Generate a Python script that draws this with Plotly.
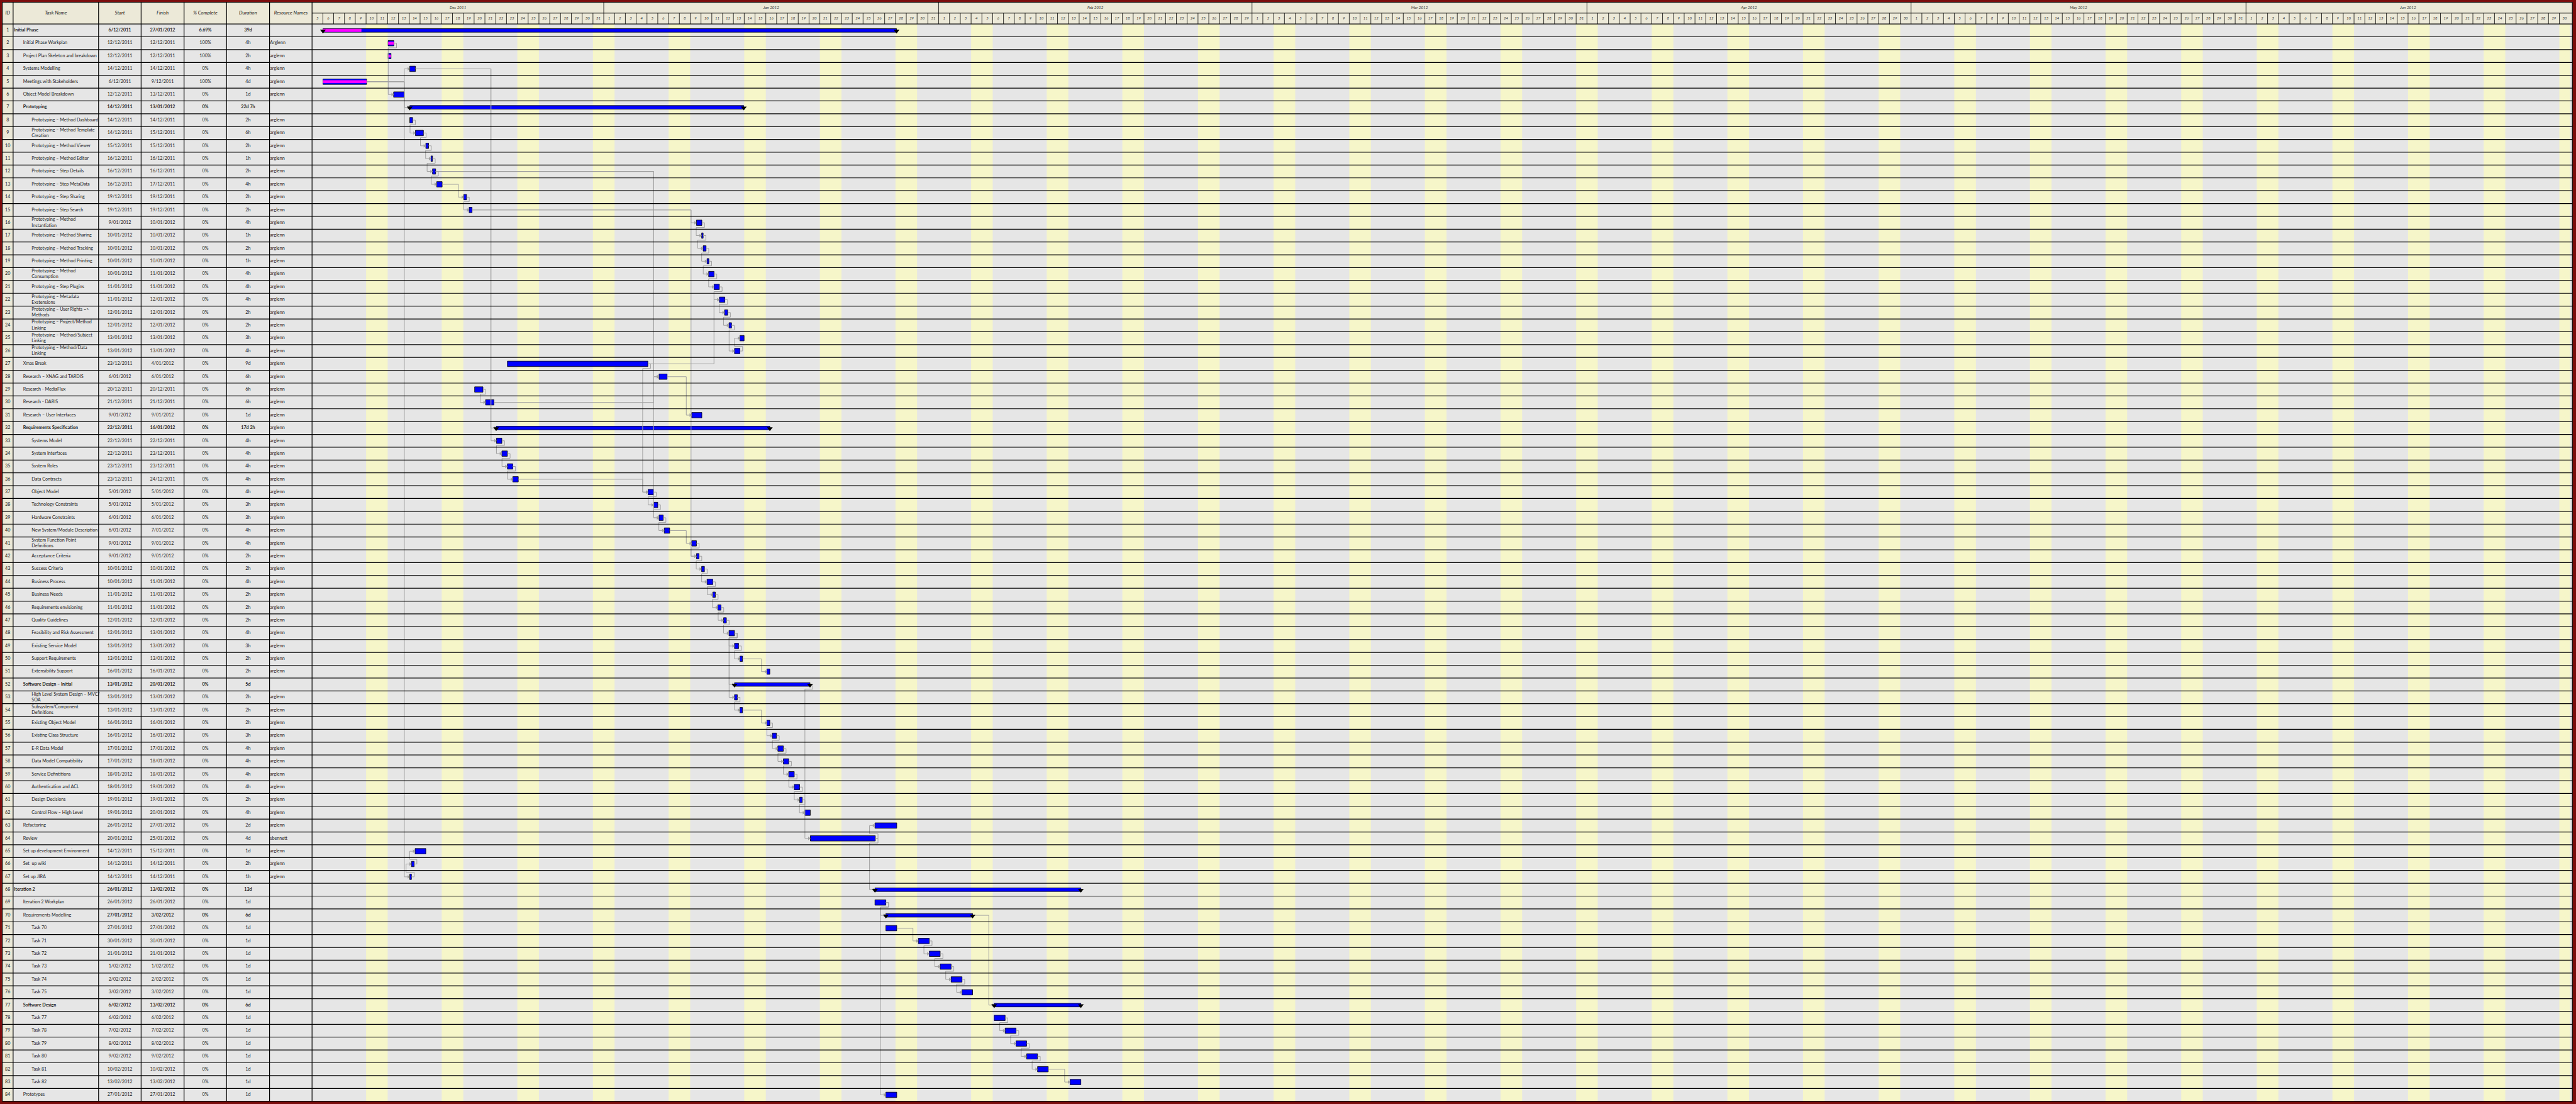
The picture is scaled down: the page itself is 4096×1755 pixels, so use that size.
import pandas as pd
import plotly.graph_objects as go

# ---------------- data ----------------
ids = list(range(1, 85))
names = [
    "Initial Phase", "Initial Phase Workplan", "Project Plan Skeleton and breakdown", "Systems Modelling",
    "Meetings with Stakeholders", "Object Model Breakdown", "Prototyping", "Prototyping – Method Dashboard",
    "Prototyping – Method Template<br>Creation", "Prototyping – Method Viewer", "Prototyping – Method Editor",
    "Prototyping – Step Details", "Prototyping – Step MetaData", "Prototyping – Step Sharing",
    "Prototyping – Step Search", "Prototyping – Method<br>Instantiation", "Prototyping – Method Sharing",
    "Prototyping – Method Tracking", "Prototyping – Method Printing", "Prototyping – Method<br>Consumption",
    "Prototyping – Step Plugins", "Prototyping – Metadata<br>Exstensions", "Prototyping – User Rights =><br>Methods",
    "Prototyping – Project/Method<br>Linking", "Prototyping – Method/Subject<br>Linking",
    "Prototyping – Method/Data<br>Linking", "Xmas Break", "Research – XNAG and TARDIS", "Research - MediaFlux",
    "Research - DARIS", "Research – User Interfaces", "Requirements Specification", "Systems Model",
    "System Interfaces", "System Roles", "Data Contracts", "Object Model", "Technology Constraints",
    "Hardware Constraints", "New System/Module Description", "System Function Point<br>Definitions",
    "Acceptance Criteria", "Success Criteria", "Business Process", "Business Needs", "Requirements envisioning",
    "Quality Guidelines", "Feasibility and Risk Assessment", "Existing Service Model", "Support Requirements",
    "Extensibility Support", "Software Design – Initial", "High Level System Design – MVC/<br>SOA",
    "Subsystem/Component<br>Definitions", "Existing Object Model", "Existing Class Structure", "E-R Data Model",
    "Data Model Compatibility", "Service Defintitions", "Authentication and ACL", "Design Decisions",
    "Control Flow – High Level", "Refactoring", "Review", "Set up development Environment", "Set  up wiki",
    "Set up JIRA", "Iteration 2", "Iteration 2 Workplan", "Requirements Modelling",
    "Task 70", "Task 71", "Task 72", "Task 73", "Task 74", "Task 75", "Software Design",
    "Task 77", "Task 78", "Task 79", "Task 80", "Task 81", "Task 82", "Prototypes",
]
levels = ([0] + [1] * 6 + [2] * 19 + [1] * 6 + [2] * 19 + [1] + [2] * 10 + [1] * 5 + [0, 1, 1]
          + [2] * 6 + [1] + [2] * 6 + [1])
starts = [
    "6/12/2011", "12/12/2011", "12/12/2011", "14/12/2011", "6/12/2011", "12/12/2011", "14/12/2011", "14/12/2011",
    "14/12/2011", "15/12/2011", "16/12/2011", "16/12/2011", "16/12/2011", "19/12/2011", "19/12/2011", "9/01/2012",
    "10/01/2012", "10/01/2012", "10/01/2012", "10/01/2012", "11/01/2012", "11/01/2012", "12/01/2012", "12/01/2012",
    "13/01/2012", "13/01/2012", "23/12/2011", "6/01/2012", "20/12/2011", "21/12/2011", "9/01/2012", "22/12/2011",
    "22/12/2011", "22/12/2011", "23/12/2011", "23/12/2011", "5/01/2012", "5/01/2012", "6/01/2012", "6/01/2012",
    "9/01/2012", "9/01/2012", "10/01/2012", "10/01/2012", "11/01/2012", "11/01/2012", "12/01/2012", "12/01/2012",
    "13/01/2012", "13/01/2012", "16/01/2012", "13/01/2012", "13/01/2012", "13/01/2012", "16/01/2012", "16/01/2012",
    "17/01/2012", "17/01/2012", "18/01/2012", "18/01/2012", "19/01/2012", "19/01/2012", "26/01/2012", "20/01/2012",
    "14/12/2011", "14/12/2011", "14/12/2011", "26/01/2012", "26/01/2012", "27/01/2012", "27/01/2012", "30/01/2012",
    "31/01/2012", "1/02/2012", "2/02/2012", "3/02/2012", "6/02/2012", "6/02/2012", "7/02/2012", "8/02/2012",
    "9/02/2012", "10/02/2012", "13/02/2012", "27/01/2012",
]
finishes = [
    "27/01/2012", "12/12/2011", "12/12/2011", "14/12/2011", "9/12/2011", "13/12/2011", "13/01/2012", "14/12/2011",
    "15/12/2011", "15/12/2011", "16/12/2011", "16/12/2011", "17/12/2011", "19/12/2011", "19/12/2011", "10/01/2012",
    "10/01/2012", "10/01/2012", "10/01/2012", "11/01/2012", "11/01/2012", "12/01/2012", "12/01/2012", "12/01/2012",
    "13/01/2012", "13/01/2012", "4/01/2012", "6/01/2012", "20/12/2011", "21/12/2011", "9/01/2012", "16/01/2012",
    "22/12/2011", "23/12/2011", "23/12/2011", "24/12/2011", "5/01/2012", "5/01/2012", "6/01/2012", "7/01/2012",
    "9/01/2012", "9/01/2012", "10/01/2012", "11/01/2012", "11/01/2012", "11/01/2012", "12/01/2012", "13/01/2012",
    "13/01/2012", "13/01/2012", "16/01/2012", "20/01/2012", "13/01/2012", "13/01/2012", "16/01/2012", "16/01/2012",
    "17/01/2012", "18/01/2012", "18/01/2012", "19/01/2012", "19/01/2012", "20/01/2012", "27/01/2012", "25/01/2012",
    "15/12/2011", "14/12/2011", "14/12/2011", "13/02/2012", "26/01/2012", "3/02/2012", "27/01/2012", "30/01/2012",
    "31/01/2012", "1/02/2012", "2/02/2012", "3/02/2012", "13/02/2012", "6/02/2012", "7/02/2012", "8/02/2012",
    "9/02/2012", "10/02/2012", "13/02/2012", "27/01/2012",
]
pct = ["6.69%", "100%", "100%", "0%", "100%"] + ["0%"] * 79
durations = [
    "39d", "4h", "2h", "4h", "4d", "1d", "22d 7h", "2h", "6h", "2h", "1h", "2h", "4h", "2h", "2h", "4h", "1h", "2h",
    "1h", "4h", "4h", "4h", "2h", "2h", "3h", "4h", "9d", "6h", "6h", "6h", "1d", "17d 2h", "4h", "4h", "4h", "4h",
    "4h", "3h", "3h", "4h", "4h", "2h", "2h", "4h", "2h", "2h", "2h", "4h", "3h", "2h", "2h", "5d", "2h", "2h", "2h",
    "3h", "4h", "4h", "4h", "4h", "2h", "4h", "2d", "4d", "1d", "2h", "1h", "13d", "1d", "6d",
    "1d", "1d", "1d", "1d", "1d", "1d", "6d", "1d", "1d", "1d", "1d", "1d", "1d", "1d",
]
resources = ["", "Arglenn", "arglenn", "arglenn", "arglenn", "arglenn", ""] + ["arglenn"] * 44 + [""] + \
            ["arglenn"] * 11 + ["sbennett", "arglenn", "arglenn", "arglenn"] + [""] * 17

summary_rows = [1, 7, 32, 52, 68, 70, 77]
bold_name_rows = [1, 7, 32, 52, 68, 77]
done_rows = [2, 3, 5]
row1_progress_end = "2011-12-09 13:40"

bar_start = [
    "2011-12-06 00:15", "2011-12-12 01:00", "2011-12-12 01:00", "2011-12-14 01:00", "2011-12-06 00:15",
    "2011-12-12 13:10", "2011-12-14 01:00", "2011-12-14 01:00", "2011-12-14 13:40", "2011-12-15 12:45",
    "2011-12-16 00:15", "2011-12-16 03:35", "2011-12-16 12:55", "2011-12-19 01:00", "2011-12-19 12:55",
    "2012-01-09 13:55", "2012-01-10 01:25", "2012-01-10 04:50", "2012-01-10 13:25", "2012-01-10 17:00",
    "2012-01-11 05:00", "2012-01-11 16:50", "2012-01-12 04:20", "2012-01-12 14:10", "2012-01-13 14:25",
    "2012-01-13 02:25", "2011-12-23 01:55", "2012-01-06 02:50", "2011-12-20 01:10", "2011-12-21 01:25",
    "2012-01-09 03:20", "2011-12-22 01:00", "2011-12-22 01:40", "2011-12-22 13:40", "2011-12-23 01:55",
    "2011-12-23 13:55", "2012-01-05 02:25", "2012-01-05 14:40", "2012-01-06 02:50", "2012-01-06 14:25",
    "2012-01-09 03:20", "2012-01-09 13:55", "2012-01-10 01:25", "2012-01-10 13:25", "2012-01-11 02:10",
    "2012-01-11 13:25", "2012-01-12 02:10", "2012-01-12 14:10", "2012-01-13 02:25", "2012-01-13 14:25",
    "2012-01-16 02:25", "2012-01-13 02:25", "2012-01-13 02:25", "2012-01-13 14:25", "2012-01-16 02:25",
    "2012-01-16 14:25", "2012-01-17 02:40", "2012-01-17 14:55", "2012-01-18 02:50", "2012-01-18 15:10",
    "2012-01-19 03:10", "2012-01-19 14:40", "2012-01-26 02:25", "2012-01-20 02:50", "2011-12-14 12:55",
    "2011-12-14 04:50", "2011-12-14 01:00", "2012-01-26 02:25", "2012-01-26 02:25", "2012-01-27 02:40",
    "2012-01-27 02:40", "2012-01-30 02:50", "2012-01-31 03:10", "2012-02-01 03:20", "2012-02-02 03:35",
    "2012-02-03 03:50", "2012-02-06 03:20", "2012-02-06 03:20", "2012-02-07 03:35", "2012-02-08 03:50",
    "2012-02-09 03:20", "2012-02-10 03:35", "2012-02-13 03:50", "2012-01-27 02:40",
]
bar_end = [
    "2012-01-28 02:25", "2011-12-12 13:40", "2011-12-12 07:25", "2011-12-14 13:40", "2011-12-10 01:10",
    "2011-12-13 12:45", "2012-01-13 23:00", "2011-12-14 07:25", "2011-12-15 07:25", "2011-12-15 18:55",
    "2011-12-16 03:35", "2011-12-16 10:35", "2011-12-17 01:00", "2011-12-19 07:10", "2011-12-19 19:25",
    "2012-01-10 01:55", "2012-01-10 04:50", "2012-01-10 11:15", "2012-01-10 17:30", "2012-01-11 05:00",
    "2012-01-11 16:50", "2012-01-12 05:00", "2012-01-12 11:15", "2012-01-12 19:55", "2012-01-13 23:45",
    "2012-01-13 14:25", "2012-01-05 01:55", "2012-01-06 20:40", "2011-12-20 19:40", "2011-12-21 19:55",
    "2012-01-10 01:55", "2012-01-16 08:55", "2011-12-22 13:40", "2011-12-23 01:55", "2011-12-23 13:55",
    "2011-12-24 02:10", "2012-01-05 14:40", "2012-01-06 00:00", "2012-01-06 12:00", "2012-01-07 02:25",
    "2012-01-09 13:55", "2012-01-09 19:40", "2012-01-10 07:40", "2012-01-11 02:10", "2012-01-11 07:55",
    "2012-01-11 20:25", "2012-01-12 08:25", "2012-01-13 02:25", "2012-01-13 11:30", "2012-01-13 20:10",
    "2012-01-16 08:55", "2012-01-20 02:10", "2012-01-13 08:40", "2012-01-13 20:10", "2012-01-16 08:55",
    "2012-01-16 23:45", "2012-01-17 14:55", "2012-01-18 02:50", "2012-01-18 15:10", "2012-01-19 03:10",
    "2012-01-19 08:55", "2012-01-20 02:50", "2012-01-28 02:50", "2012-01-26 03:10", "2011-12-15 12:45",
    "2011-12-14 10:50", "2011-12-14 04:50", "2012-02-14 03:50", "2012-01-27 02:40", "2012-02-04 03:20",
    "2012-01-28 02:50", "2012-01-31 03:10", "2012-02-01 03:20", "2012-02-02 03:35", "2012-02-03 03:50",
    "2012-02-04 03:20", "2012-02-14 03:50", "2012-02-07 03:35", "2012-02-08 03:50", "2012-02-09 03:20",
    "2012-02-10 03:35", "2012-02-11 03:20", "2012-02-14 03:50", "2012-01-28 02:50",
]
links = [(2, 6), (5, 4), (5, 7), (5, 67), (6, 7), (4, 32), (4, 33), (8, 9), (9, 10), (10, 11), (11, 12),
         (12, 13), (12, 28), (12, 39), (13, 14), (14, 15), (15, 16), (15, 42), (16, 17), (17, 18), (18, 19),
         (19, 20), (20, 21), (21, 22), (27, 22), (22, 23), (23, 24), (24, 26), (26, 25), (27, 37), (36, 37),
         (28, 31), (29, 30), (30, 28), (33, 34), (34, 35), (35, 36), (37, 38), (38, 39), (39, 40), (40, 41),
         (41, 42), (42, 43), (43, 44), (44, 45), (45, 46), (46, 47), (47, 48), (48, 49), (49, 50), (50, 51),
         (48, 52), (48, 53), (53, 54), (54, 55), (55, 56), (56, 57), (57, 58), (58, 59), (59, 60), (60, 61),
         (61, 62), (52, 64), (64, 63), (64, 68), (69, 70), (69, 84), (71, 72), (72, 73), (73, 74), (74, 75),
         (75, 76), (70, 77), (78, 79), (79, 80), (80, 81), (81, 82), (82, 83), (67, 66), (66, 65)]

col_titles = ["ID", "Task Name", "Start", "Finish", "% Complete", "Duration", "Resource Names"]
tl_start, tl_end = "2011-12-05", "2012-07-01"

# ---------------- layout geometry (reference pixels) ----------------
W, H = 4096, 1755
RW, RH = 5696.0, 2440.0
HEAD_TOP, HEAD_MID, HEAD_BOT, BODY_BOT = 5, 29, 53, 2434
NROW = len(ids)
ROW_H = (BODY_BOT - HEAD_BOT) / NROW
COLS = [5, 29, 218, 312, 407, 501, 596, 690]
TL_X0, TL_X1, RIGHT = 690, 5683, 5688
LEVEL_X = [31, 51, 70]
RES_X = 597

FONT = "Lato, 'DejaVu Sans Condensed', sans-serif"
GRAY_BG = "#E6E6E6"
BEIGE = "#ECE9D8"
WEEKEND = "#F6F6C9"
BLUE = "#0000FF"
PINK = "#FF00FF"
LINK = "#A0A0A0"


def yv(p):
    return (p - HEAD_BOT) / ROW_H + 0.5


def px(x):
    return x / RW


def py(y):
    return 1 - y / RH


fig = go.Figure()
shapes = []
shapes.append(dict(type="rect", xref="paper", yref="paper", x0=px(5), x1=px(RIGHT), y0=py(HEAD_TOP),
                   y1=py(BODY_BOT), fillcolor=GRAY_BG, line_width=0, layer="below"))
shapes.append(dict(type="rect", xref="paper", yref="paper", x0=px(5), x1=px(RIGHT), y0=py(HEAD_TOP),
                   y1=py(HEAD_BOT), fillcolor=BEIGE, line_width=0, layer="below"))
shapes.append(dict(type="rect", xref="paper", yref="paper", x0=px(COLS[0]), x1=px(COLS[1]), y0=py(HEAD_BOT),
                   y1=py(BODY_BOT), fillcolor=BEIGE, line_width=0, layer="below"))
t0, t1 = pd.Timestamp(tl_start), pd.Timestamp(tl_end)
for d in pd.date_range(t0, t1, freq="W-SAT"):
    shapes.append(dict(type="rect", xref="x", yref="y", x0=d, x1=min(d + pd.Timedelta(days=2), t1),
                       y0=0.5, y1=NROW + 0.5, fillcolor=WEEKEND, line_width=0, layer="below"))


def hline(y, x0, x1, w=1.2, c="black"):
    shapes.append(dict(type="line", xref="paper", yref="y", x0=px(x0), x1=px(x1), y0=y, y1=y,
                       line=dict(color=c, width=w), layer="above"))


for i in range(NROW + 1):
    hline(i + 0.5, 5, RIGHT)
hline(yv(HEAD_TOP), 5, RIGHT)
hline(yv(HEAD_MID), TL_X0, RIGHT, 0.9)
for x in COLS + [RIGHT]:
    shapes.append(dict(type="line", xref="paper", yref="y", x0=px(x), x1=px(x), y0=yv(HEAD_TOP), y1=NROW + 0.5,
                       line=dict(color="black", width=1.2), layer="above"))
days = pd.date_range(t0, t1, freq="D")
for d in days[1:-1]:
    top = yv(HEAD_TOP) if d.day == 1 else yv(HEAD_MID)
    shapes.append(dict(type="line", xref="x", yref="y", x0=d, x1=d, y0=top, y1=0.5,
                       line=dict(color="black", width=0.8), layer="above"))

# ---------------- links ----------------
bs = [pd.Timestamp(s) for s in bar_start]
be = [pd.Timestamp(s) for s in bar_end]
STUB = pd.Timedelta(hours=6)
APPR = pd.Timedelta(hours=12)
ARW = pd.Timedelta(hours=3)
lx, ly, axp, ayp = [], [], [], []
for p, s in links:
    xe, xs = be[p - 1], bs[s - 1]
    xv = xs - APPR
    if xv >= xe:
        pts = [(xe, p), (xv, p), (xv, s), (xs - ARW, s)]
    else:
        off = 0.36 if s > p else -0.36
        xr = xe + STUB
        pts = [(xe, p), (xr, p), (xr, p + off), (xv, p + off), (xv, s), (xs - ARW, s)]
    for x, y in pts:
        lx.append(x)
        ly.append(y)
    lx.append(None)
    ly.append(None)
    axp.append(xs - ARW)
    ayp.append(s)

fig.add_trace(go.Scatter(x=lx, y=ly, mode="lines", line=dict(color=LINK, width=1), hoverinfo="skip",
                         xaxis="x", yaxis="y", showlegend=False))
fig.add_trace(go.Scatter(x=axp, y=ayp, mode="markers", marker=dict(symbol="triangle-right", size=5, color=LINK),
                         hoverinfo="skip", xaxis="x", yaxis="y", showlegend=False))

# ---------------- bars ----------------
task_idx = [i for i in range(NROW) if ids[i] not in summary_rows]
sum_idx = [i for i in range(NROW) if ids[i] in summary_rows]


def dur_ms(i):
    return (be[i] - bs[i]).total_seconds() * 1000


fig.add_trace(go.Bar(orientation="h", y=[ids[i] for i in task_idx], base=[bs[i] for i in task_idx],
                     x=[dur_ms(i) for i in task_idx], width=0.42,
                     marker=dict(color=BLUE, line=dict(color="black", width=0.8)),
                     hoverinfo="skip", xaxis="x", yaxis="y", showlegend=False))
done_idx = [r - 1 for r in done_rows]
fig.add_trace(go.Bar(orientation="h", y=[ids[i] for i in done_idx], base=[bs[i] for i in done_idx],
                     x=[dur_ms(i) for i in done_idx], width=0.22,
                     marker=dict(color=PINK, line=dict(width=0)),
                     hoverinfo="skip", xaxis="x", yaxis="y", showlegend=False))
fig.add_trace(go.Bar(orientation="h", y=[ids[i] for i in sum_idx], base=[bs[i] for i in sum_idx],
                     x=[dur_ms(i) for i in sum_idx], width=0.28,
                     marker=dict(color=BLUE, line=dict(color="black", width=0.8)),
                     hoverinfo="skip", xaxis="x", yaxis="y", showlegend=False))
pe = pd.Timestamp(row1_progress_end)
fig.add_trace(go.Bar(orientation="h", y=[1], base=[bs[0]], x=[(pe - bs[0]).total_seconds() * 1000], width=0.24,
                     marker=dict(color=PINK, line=dict(width=0)),
                     hoverinfo="skip", xaxis="x", yaxis="y", showlegend=False))
tri_x = [bs[i] for i in sum_idx] + [be[i] for i in sum_idx]
tri_y = [ids[i] for i in sum_idx] * 2
fig.add_trace(go.Scatter(x=tri_x, y=[y + 0.04 for y in tri_y], mode="markers",
                         marker=dict(symbol="triangle-down", size=8, color="black"),
                         hoverinfo="skip", xaxis="x", yaxis="y", showlegend=False))

# ---------------- header timeline text ----------------
fig.add_trace(go.Scatter(x=[d + pd.Timedelta(hours=12) for d in days[:-1]], y=[yv(41)] * (len(days) - 1),
                         text=["<i>%d</i>" % d.day for d in days[:-1]], mode="text",
                         textfont=dict(family=FONT, size=6, color="#333333"), textposition="middle center",
                         hoverinfo="skip", xaxis="x", yaxis="y", showlegend=False))
mstarts = pd.date_range("2011-12-01", "2012-06-01", freq="MS")
mx, mt = [], []
for m in mstarts:
    a = max(m, t0)
    b = min(m + pd.offsets.MonthBegin(1), t1)
    mx.append(a + (b - a) / 2)
    mt.append("<i>%s</i>" % m.strftime("%b %Y"))
fig.add_trace(go.Scatter(x=mx, y=[yv(17)] * len(mx), text=mt, mode="text",
                         textfont=dict(family=FONT, size=6.3, color="#333333"), textposition="middle center",
                         hoverinfo="skip", xaxis="x", yaxis="y", showlegend=False))

# ---------------- table text ----------------
def bold(v, cond):
    return "<b>%s</b>" % v if cond and v else v


rows = ids
is_sum = [r in summary_rows for r in rows]
is_bname = [r in bold_name_rows for r in rows]
tf = dict(family=FONT, size=7.2, color="#222222")
col_c = [(COLS[i] + COLS[i + 1]) / 2 for i in range(len(COLS) - 1)]

fig.add_trace(go.Scatter(x=[col_c[0]] * NROW, y=rows, text=[str(i) for i in ids], mode="text", textfont=tf,
                         textposition="middle center", xaxis="x2", yaxis="y", hoverinfo="skip", showlegend=False))
fig.add_trace(go.Scatter(x=[LEVEL_X[l] for l in levels], y=rows,
                         text=[bold(n, b) for n, b in zip(names, is_bname)], mode="text", textfont=tf,
                         textposition="middle right", xaxis="x2", yaxis="y", hoverinfo="skip", showlegend=False))
for ci, vals in zip([2, 3, 4, 5], [starts, finishes, pct, durations]):
    fig.add_trace(go.Scatter(x=[col_c[ci]] * NROW, y=rows, text=[bold(v, b) for v, b in zip(vals, is_sum)],
                             mode="text", textfont=tf, textposition="middle center", xaxis="x2", yaxis="y",
                             hoverinfo="skip", showlegend=False))
fig.add_trace(go.Scatter(x=[RES_X] * NROW, y=rows, text=resources, mode="text", textfont=tf,
                         textposition="middle right", xaxis="x2", yaxis="y", hoverinfo="skip", showlegend=False))
fig.add_trace(go.Scatter(x=col_c, y=[yv(29)] * len(col_c), text=["<i>%s</i>" % t for t in col_titles],
                         mode="text", textfont=dict(family=FONT, size=7.8, color="#222222"),
                         textposition="middle center", xaxis="x2", yaxis="y", hoverinfo="skip", showlegend=False))

# ---------------- layout ----------------
fig.update_layout(
    width=W, height=H, margin=dict(l=0, r=0, t=0, b=0), autosize=False,
    paper_bgcolor="#7A0C0C", plot_bgcolor="rgba(0,0,0,0)", barmode="overlay", showlegend=False,
    hovermode=False,
    xaxis=dict(type="date", domain=[px(TL_X0), px(TL_X1)], range=[t0, t1], visible=False, anchor="y",
               fixedrange=True),
    xaxis2=dict(type="linear", domain=[0, 1], range=[0, RW], visible=False, anchor="y", fixedrange=True),
    yaxis=dict(range=[yv(RH), yv(0)], domain=[0, 1], visible=False, fixedrange=True),
    shapes=shapes,
)
fig.write_html("out.html", config={"displayModeBar": False, "staticPlot": True})
